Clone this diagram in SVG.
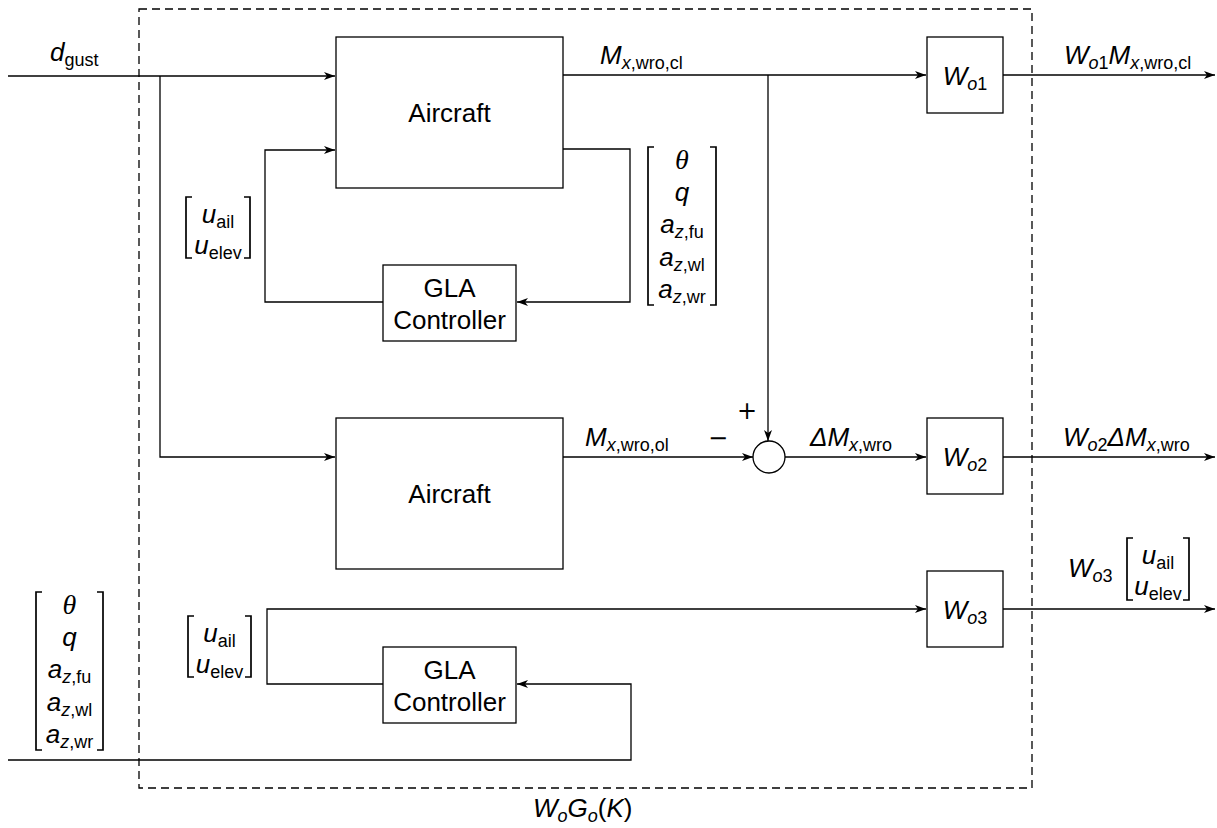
<svg xmlns="http://www.w3.org/2000/svg" width="1217" height="828" viewBox="0 0 1217 828">
<style>
.ln{stroke:#000;stroke-width:1.3;fill:none}
.box{fill:#fff;stroke:#000;stroke-width:1.3}
.br{stroke:#000;stroke-width:1.7;fill:none}
.dash{stroke:#000;stroke-width:1.3;fill:none;stroke-dasharray:8 5}
.t{font-family:"Liberation Sans",Arial,sans-serif;font-size:26px;fill:#000}
.m{font-family:"Liberation Sans",Arial,sans-serif;font-size:26px;font-style:italic;fill:#000}
.s{font-size:18px;font-style:normal}
.si{font-size:18px;font-style:italic}
.n{font-style:normal}
.th{font-family:"Liberation Serif","Times New Roman",serif;font-style:italic;font-size:28px}
.op{font-family:"DejaVu Sans",sans-serif;font-size:24px;fill:#000}
</style>
<defs>
<marker id="ar" viewBox="0 0 12 10" refX="11" refY="5" markerWidth="12" markerHeight="10" markerUnits="userSpaceOnUse" orient="auto">
<path d="M0,1 L11,5 L0,9 L3,5 Z" fill="#000"/>
</marker>
</defs>

<rect id="frame" class="dash" x="139" y="9" width="893" height="779"/>

<g id="connectors">
<path class="ln" d="M8,76 H335" marker-end="url(#ar)"/>
<path class="ln" d="M160,76 V457 H335" marker-end="url(#ar)"/>
<path class="ln" d="M563,75 H926" marker-end="url(#ar)"/>
<path class="ln" d="M768,75 V441" marker-end="url(#ar)"/>
<path class="ln" d="M563,149 H630 V302 H517" marker-end="url(#ar)"/>
<path class="ln" d="M383,302 H265 V150 H335" marker-end="url(#ar)"/>
<path class="ln" d="M563,457 H753" marker-end="url(#ar)"/>
<path class="ln" d="M785,457 H926" marker-end="url(#ar)"/>
<path class="ln" d="M1003,75 H1215" marker-end="url(#ar)"/>
<path class="ln" d="M1003,457 H1215" marker-end="url(#ar)"/>
<path class="ln" d="M1003,609 H1215" marker-end="url(#ar)"/>
<path class="ln" d="M8,760 H631 V684 H517" marker-end="url(#ar)"/>
<path class="ln" d="M383,684 H267 V609 H926" marker-end="url(#ar)"/>
</g>

<g id="aircraft1"><rect class="box" x="336" y="37" width="227" height="151"/><text class="t" x="449.5" y="122" text-anchor="middle">Aircraft</text></g>
<g id="aircraft2"><rect class="box" x="336" y="418" width="227" height="151"/><text class="t" x="449.5" y="503" text-anchor="middle">Aircraft</text></g>
<g id="gla1"><rect class="box" x="383" y="265" width="133" height="76"/><text class="t" x="449.5" y="297" text-anchor="middle">GLA</text><text class="t" x="449.5" y="329" text-anchor="middle">Controller</text></g>
<g id="gla2"><rect class="box" x="383" y="647" width="133" height="76"/><text class="t" x="449.5" y="679" text-anchor="middle">GLA</text><text class="t" x="449.5" y="711" text-anchor="middle">Controller</text></g>
<g id="sum"><circle class="box" cx="769" cy="457" r="16"/></g>
<g id="wo1"><rect class="box" x="927" y="37" width="76" height="76"/><text class="m" x="965" y="85" text-anchor="middle">W<tspan class="si" dy="5">o</tspan><tspan class="s">1</tspan></text></g>
<g id="wo2"><rect class="box" x="927" y="418" width="76" height="76"/><text class="m" x="965" y="466" text-anchor="middle">W<tspan class="si" dy="5">o</tspan><tspan class="s">2</tspan></text></g>
<g id="wo3"><rect class="box" x="927" y="571" width="76" height="76"/><text class="m" x="965" y="619" text-anchor="middle">W<tspan class="si" dy="5">o</tspan><tspan class="s">3</tspan></text></g>

<g id="labels">
<text class="m" x="50" y="61">d<tspan class="s" dy="5">gust</tspan></text>
<text class="m" x="600" y="64">M<tspan class="si" dy="5">x</tspan><tspan class="s">,wro,cl</tspan></text>
<text class="m" x="1064" y="64">W<tspan class="si" dy="5">o</tspan><tspan class="s">1</tspan><tspan dy="-5">M</tspan><tspan class="si" dy="5">x</tspan><tspan class="s">,wro,cl</tspan></text>
<text class="m" x="585" y="446">M<tspan class="si" dy="5">x</tspan><tspan class="s">,wro,ol</tspan></text>
<text class="op" x="718" y="446" text-anchor="middle">−</text>
<text class="op" x="747" y="419" text-anchor="middle">+</text>
<text class="m" x="810" y="446">ΔM<tspan class="si" dy="5">x</tspan><tspan class="s">,wro</tspan></text>
<text class="m" x="1063" y="446">W<tspan class="si" dy="5">o</tspan><tspan class="s">2</tspan><tspan dy="-5">ΔM</tspan><tspan class="si" dy="5">x</tspan><tspan class="s">,wro</tspan></text>
<text class="m" x="1068" y="577">W<tspan class="si" dy="5">o</tspan><tspan class="s">3</tspan></text>
<text class="m" x="533" y="817">W<tspan class="si" dy="5">o</tspan><tspan dy="-5">G</tspan><tspan class="si" dy="5">o</tspan><tspan class="n" dy="-5">(</tspan>K<tspan class="n">)</tspan></text>

<!-- upper u matrix -->
<path class="br" d="M192,197 H186 V258 H192 M244,197 H250 V258 H244"/>
<text class="m" x="218" y="223" text-anchor="middle">u<tspan class="s" dy="5">ail</tspan></text>
<text class="m" x="218" y="254" text-anchor="middle">u<tspan class="s" dy="5">elev</tspan></text>

<!-- upper theta matrix -->
<path class="br" d="M654,147 H648 V305 H654 M710,147 H716 V305 H710"/>
<text class="m th" x="682" y="169" text-anchor="middle">θ</text>
<text class="m" x="682" y="201" text-anchor="middle">q</text>
<text class="m" x="682" y="233" text-anchor="middle">a<tspan class="si" dy="5">z</tspan><tspan class="s">,fu</tspan></text>
<text class="m" x="682" y="266" text-anchor="middle">a<tspan class="si" dy="5">z</tspan><tspan class="s">,wl</tspan></text>
<text class="m" x="682" y="298" text-anchor="middle">a<tspan class="si" dy="5">z</tspan><tspan class="s">,wr</tspan></text>

<!-- lower left theta matrix -->
<path class="br" d="M42,592 H36 V750 H42 M97,592 H103 V750 H97"/>
<text class="m th" x="69.5" y="614" text-anchor="middle">θ</text>
<text class="m" x="69.5" y="646" text-anchor="middle">q</text>
<text class="m" x="69.5" y="678" text-anchor="middle">a<tspan class="si" dy="5">z</tspan><tspan class="s">,fu</tspan></text>
<text class="m" x="69.5" y="711" text-anchor="middle">a<tspan class="si" dy="5">z</tspan><tspan class="s">,wl</tspan></text>
<text class="m" x="69.5" y="743" text-anchor="middle">a<tspan class="si" dy="5">z</tspan><tspan class="s">,wr</tspan></text>

<!-- lower u matrix -->
<path class="br" d="M194,616 H188 V677 H194 M245,616 H251 V677 H245"/>
<text class="m" x="219.5" y="642" text-anchor="middle">u<tspan class="s" dy="5">ail</tspan></text>
<text class="m" x="219.5" y="673" text-anchor="middle">u<tspan class="s" dy="5">elev</tspan></text>

<!-- output u matrix -->
<path class="br" d="M1133,538 H1127 V600 H1133 M1183,538 H1189 V600 H1183"/>
<text class="m" x="1158" y="564" text-anchor="middle">u<tspan class="s" dy="5">ail</tspan></text>
<text class="m" x="1158" y="595" text-anchor="middle">u<tspan class="s" dy="5">elev</tspan></text>
</g>
</svg>
